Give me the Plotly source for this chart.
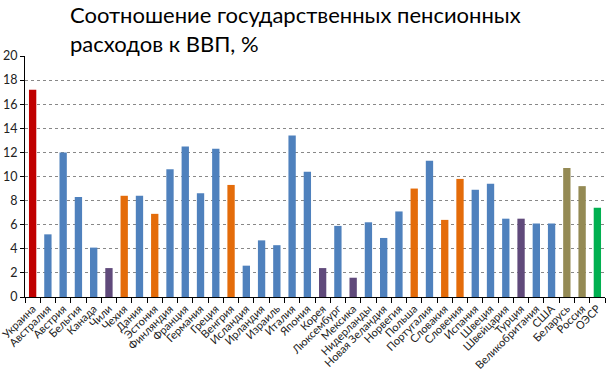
import plotly.graph_objects as go

countries = ["Украина", "Австралия", "Австрия", "Бельгия", "Канада", "Чили", "Чехия", "Дания",
             "Эстония", "Финляндия", "Франция", "Германия", "Греция", "Венгрия", "Исландия",
             "Ирландия", "Израиль", "Италия", "Япония", "Корея", "Люксембург", "Мексика",
             "Нидерланды", "Новая Зеландия", "Норвегия", "Польша", "Португалия", "Словакия",
             "Словения", "Испания", "Швеция", "Швейцария", "Турция", "Великобритания", "США",
             "Беларусь", "Россия", "ОЭСР"]
values = [17.2, 5.2, 12.0, 8.3, 4.1, 2.4, 8.4, 8.4, 6.9, 10.6, 12.5, 8.6, 12.3, 9.3, 2.6,
          4.7, 4.3, 13.4, 10.4, 2.4, 5.9, 1.6, 6.2, 4.9, 7.1, 9.0, 11.3, 6.4, 9.8, 8.9,
          9.4, 6.5, 6.5, 6.1, 6.1, 10.7, 9.2, 7.4]
groups = ["ua", "b", "b", "b", "b", "p", "o", "b", "o", "b", "b", "b", "b", "o", "b",
          "b", "b", "b", "b", "p", "b", "p", "b", "b", "b", "o", "b", "o", "o", "b",
          "b", "b", "p", "b", "b", "ol", "ol", "g"]
palette = {"ua": "#C00000", "b": "#4F81BD", "p": "#604A7B", "o": "#E46C0A",
           "ol": "#948A54", "g": "#00B050"}
y_ticks = [0, 2, 4, 6, 8, 10, 12, 14, 16, 18, 20]
title_text = "Соотношение государственных пенсионных<br>расходов к ВВП, %"

fig = go.Figure(go.Bar(
    x=countries, y=values,
    marker=dict(color=[palette[g] for g in groups], line=dict(width=0)),
))

fig.update_layout(
    width=607, height=381,
    margin=dict(l=25, r=2, t=56, b=84, autoexpand=False),
    paper_bgcolor="white", plot_bgcolor="white",
    bargap=0.52,
    showlegend=False,
    font=dict(family="Lato, Open Sans, sans-serif", color="#000000"),
    annotations=[dict(
        text=title_text, showarrow=False, align="left",
        xref="paper", yref="paper", x=(68 - 25) / 580, y=(297 + 1) / 241,
        xanchor="left", yanchor="top",
        font=dict(size=22, color="#000000", family="Lato, Open Sans, sans-serif"),
    )],
)
fig.update_xaxes(
    type="category", tickangle=-45, tickfont=dict(size=11, color="#222"),
    showline=True, linecolor="#000", linewidth=1, automargin=False,
    ticks="outside", tickson="boundaries", ticklen=5, tickcolor="#000",
    showgrid=False,
)
fig.update_yaxes(
    range=[0, 20], tickvals=y_ticks, tickfont=dict(size=12.5, color="#222"),
    showline=True, linecolor="#000", linewidth=1, automargin=False,
    ticks="outside", ticklen=4, tickcolor="#000",
    showgrid=True, gridcolor="#888", griddash="dot", gridwidth=1,
    zeroline=False,
)

fig.write_html("out.html", config={"displayModeBar": False},
               post_script="document.body.style.margin='0';")
